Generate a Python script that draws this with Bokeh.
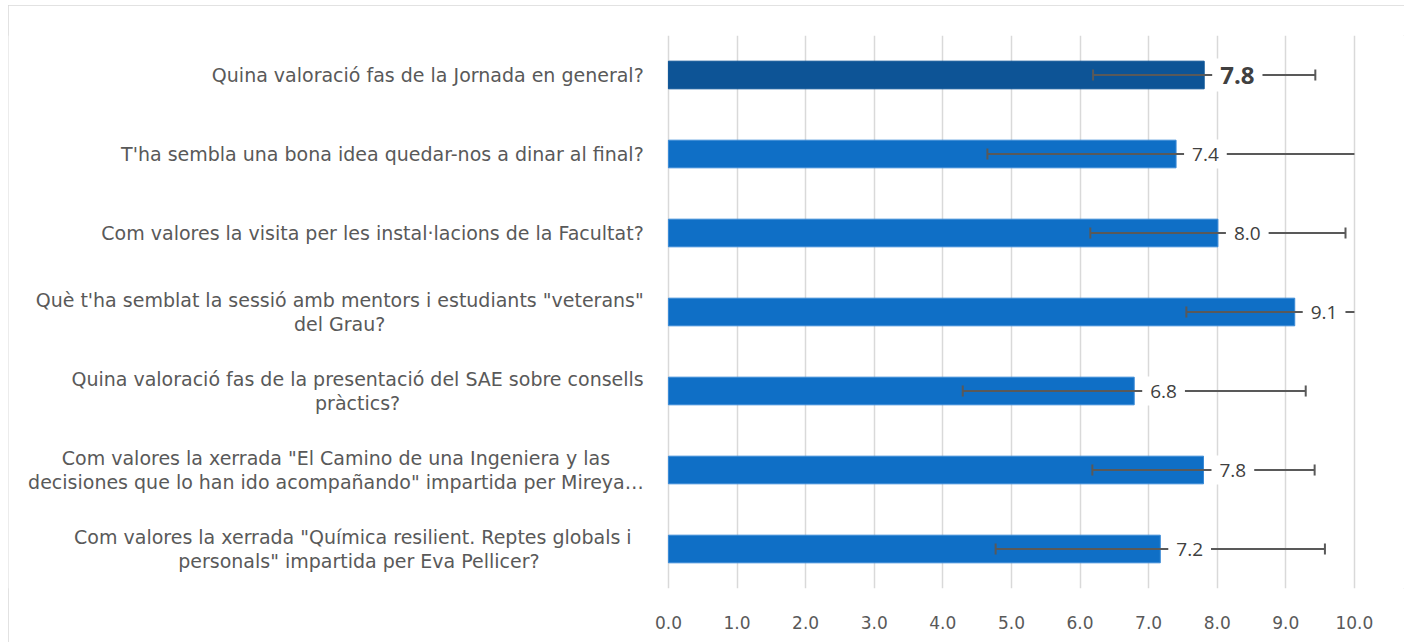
from bokeh.plotting import figure
from bokeh.models import ColumnDataSource, FixedTicker, Range1d, NumeralTickFormatter
from bokeh.core.properties import value
from bokeh.embed import file_html
from bokeh.resources import INLINE

# ---- data (top to bottom) ----
questions = [
    "Quina valoració fas de la Jornada en general?",
    "T'ha sembla una bona idea quedar-nos a dinar al final?",
    "Com valores la visita per les instal·lacions de la Facultat?",
    "Què t'ha semblat la sessió amb mentors i estudiants \"veterans\"\ndel Grau?",
    "Quina valoració fas de la presentació del SAE sobre consells\npràctics?",
    "Com valores la xerrada \"El Camino de una Ingeniera y las\ndecisiones que lo han ido acompañando\" impartida per Mireya…",
    "Com valores la xerrada   \"Química resilient. Reptes globals i\npersonals\" impartida per Eva Pellicer?",
]
scores = [7.81, 7.40, 8.01, 9.13, 6.79, 7.80, 7.17]
errors = [1.62, 2.75, 1.86, 1.58, 2.50, 1.62, 2.40]
x_ticks = [0, 1, 2, 3, 4, 5, 6, 7, 8, 9, 10]
x_max = 10

FONT = "Open Sans"
LABEL_FONT = "DejaVu Sans"
DARK = "#0D5496"
LIGHT = "#0F6FC6"
GREY = "#595959"

n = len(questions)
ypos = [n - 1 - i for i in range(n)]
colors = [DARK if i == 0 else LIGHT for i in range(n)]
edges = [DARK if i == 0 else "#3A8AD6" for i in range(n)]
labels = [f"{v:.1f}" for v in scores]
lo = [v - e for v, e in zip(scores, errors)]
hi = [min(v + e, x_max) for v, e in zip(scores, errors)]
cap_h = 0.07

src = ColumnDataSource(dict(q=questions, y=ypos, v=scores, c=colors, ec=edges,
                            lab=labels, lo=lo, hi=hi,
                            cy0=[y - cap_h for y in ypos], cy1=[y + cap_h for y in ypos]))

p = figure(width=1396, height=637, output_backend="svg", toolbar_location=None,
           x_range=Range1d(-9.62, 10.73), y_range=Range1d(-0.5, n - 0.5),
           min_border_left=0, min_border_right=0, min_border_top=30, min_border_bottom=54)
p.outline_line_color = None
p.styles = {"outline": "1px solid #D9D9D9", "outline-offset": "-1px",
            "margin-left": "8px", "margin-top": "5px"}

# axes
p.yaxis.visible = False
xa = p.xaxis[0]
xa.ticker = FixedTicker(ticks=x_ticks)
xa.formatter = NumeralTickFormatter(format="0.0")
xa.axis_line_color = None
xa.major_tick_line_color = None
xa.minor_tick_line_color = None
xa.major_tick_out = 0
xa.major_label_standoff = 27
xa.major_label_text_font = LABEL_FONT
xa.major_label_text_font_size = "17px"
xa.major_label_text_color = GREY

p.xgrid.ticker = FixedTicker(ticks=x_ticks)
p.xgrid.grid_line_color = "#D9D9D9"
p.xgrid.grid_line_width = 1.5
p.ygrid.grid_line_color = None

# bars
p.hbar(y="y", left=0, right="v", height=0.35, fill_color="c", line_color="ec",
       line_width=1, source=src)

# error bars
p.segment(x0="lo", y0="y", x1="hi", y1="y", line_color=GREY, line_width=2, source=src)
p.segment(x0="lo", y0="cy0", x1="lo", y1="cy1", line_color=GREY, line_width=2, source=src)
keep = [i for i in range(n) if scores[i] + errors[i] <= x_max]
cap_src = ColumnDataSource(dict(x=[hi[i] for i in keep],
                                y0=[ypos[i] - cap_h for i in keep],
                                y1=[ypos[i] + cap_h for i in keep]))
p.segment(x0="x", y0="y0", x1="x", y1="y1", source=cap_src, line_color=GREY, line_width=2)

# category labels (block anchored right, lines centred)
p.text(x=-0.36, y="y", text="q", source=src, anchor="center_right", text_align="center",
       text_baseline="middle",
       text_font=value(LABEL_FONT), text_font_size="19px", text_color=GREY,
       text_line_height=1.1)

# value labels
first = ColumnDataSource(dict(x=scores[:1], y=ypos[:1], t=labels[:1]))
rest = ColumnDataSource(dict(x=scores[1:], y=ypos[1:], t=labels[1:]))
p.text(x="x", y="y", text="t", source=first, x_offset=8,
       text_baseline="middle", text_font=value(FONT), text_font_size="24px",
       text_font_style="bold", text_color="#404040",
       background_fill_color="white", padding=8)
p.text(x="x", y="y", text="t", source=rest, x_offset=8,
       text_baseline="middle", text_font=value(FONT), text_font_size="19px",
       text_color="#404040", background_fill_color="white", padding=8)

open("out.html", "w").write(file_html(p, INLINE))
